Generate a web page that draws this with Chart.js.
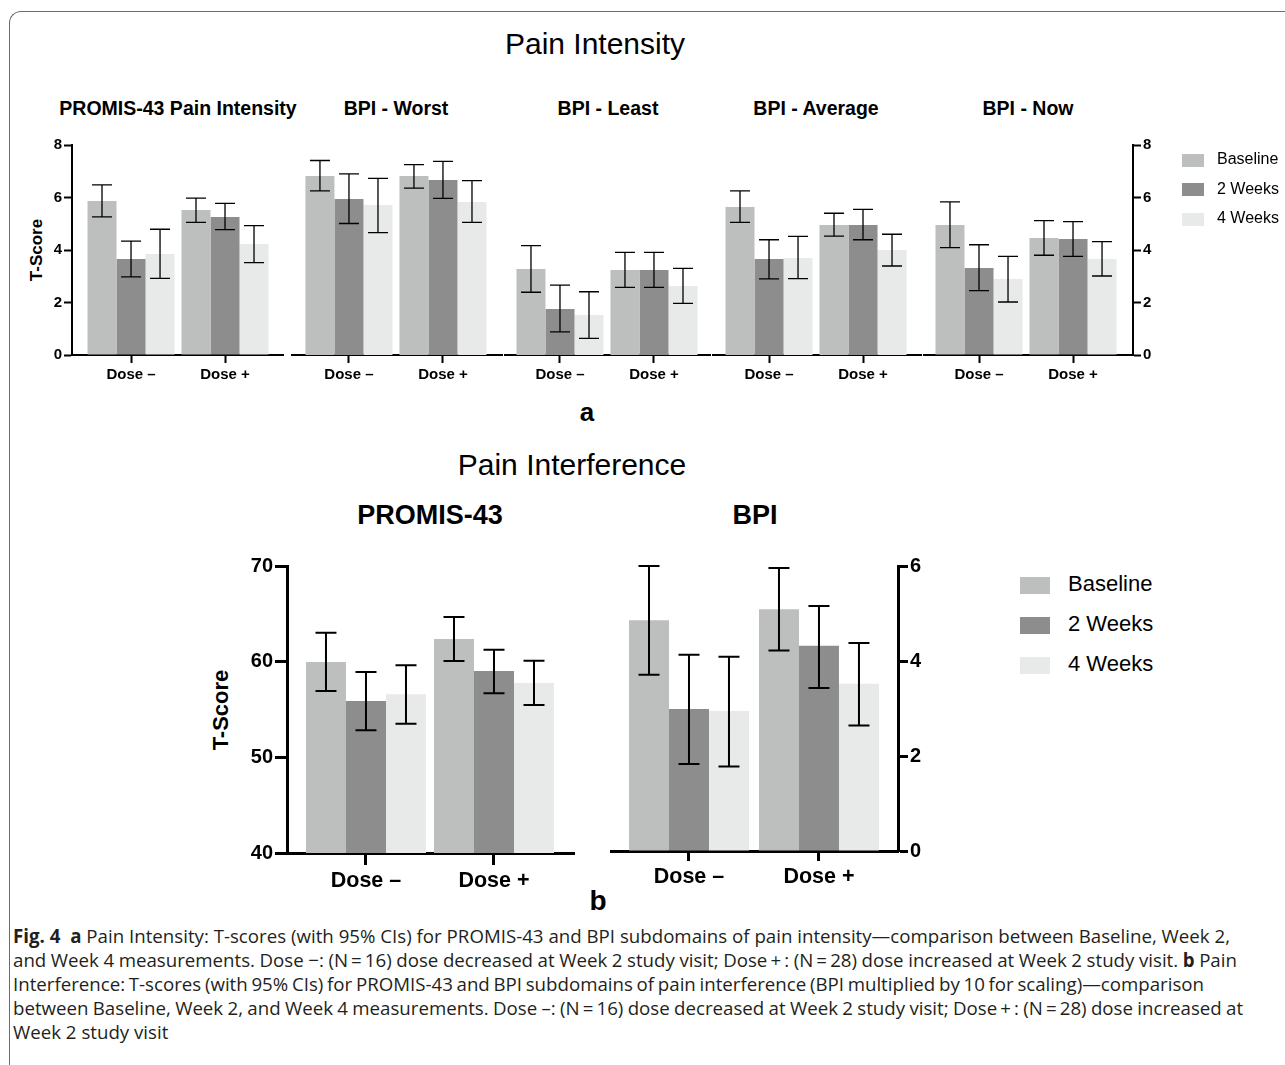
<!DOCTYPE html>
<html>
<head>
<meta charset="utf-8">
<script src="https://cdn.jsdelivr.net/npm/chart.js@4.4.1/dist/chart.umd.min.js"></script>
<style>
  body { margin: 0; background: #fff; }
  #page { position: relative; width: 1285px; height: 1065px; overflow: hidden;
          font-family: "Liberation Sans", Arial, sans-serif; color: #000; }
  .frame { position: absolute; left: 9px; top: 11px; width: 1400px; height: 1200px;
           border-left: 1.5px solid #6b6b6b; border-top: 1.5px solid #6b6b6b;
           border-top-left-radius: 12px; }
  .t { position: absolute; white-space: nowrap; transform: translate(-50%, -50%); line-height: 1; }
  .b { font-weight: bold; }
  .rot { transform: translate(-50%, -50%) rotate(-90deg); }
  canvas { position: absolute; }
  .lg { position: absolute; white-space: nowrap; line-height: 1; }
  #caption { position: absolute; left: 13px; top: 924px; font-family: "Open Sans", "Noto Sans", sans-serif;
             color: #231f20; font-size: 16px; }
  #caption div { white-space: nowrap; line-height: 24px; height: 24px; }
  #caption span { display: inline-block; }
</style>
</head>
<body>
<div id="page">
  <div class="frame"></div>
  <div class="t" style="left:595px;top:44px;font-size:30px;">Pain Intensity</div>
  <div class="t b rot" style="left:36px;top:250px;font-size:17px;">T-Score</div>
  <div class="t b" style="left:587px;top:412px;font-size:26px;">a</div>
  <div class="t" style="left:572px;top:465px;font-size:30px;">Pain Interference</div>
  <div class="t b rot" style="left:221px;top:710px;font-size:22px;">T-Score</div>
  <div class="t b" style="left:598px;top:901px;font-size:28px;">b</div>
  <div id="caption">
    <div><span><b>Fig. 4</b>&nbsp; <b>a</b> Pain Intensity: T-scores (with 95% CIs) for PROMIS-43 and BPI subdomains of pain intensity—comparison between Baseline, Week 2,</span></div>
    <div><span>and Week 4 measurements. Dose −: (N&#8201;=&#8201;16) dose decreased at Week 2 study visit; Dose&#8201;+&#8201;: (N&#8201;=&#8201;28) dose increased at Week 2 study visit. <b>b</b> Pain</span></div>
    <div><span>Interference: T-scores (with 95% CIs) for PROMIS-43 and BPI subdomains of pain interference (BPI multiplied by 10 for scaling)—comparison</span></div>
    <div><span>between Baseline, Week 2, and Week 4 measurements. Dose –: (N&#8201;=&#8201;16) dose decreased at Week 2 study visit; Dose&#8201;+&#8201;: (N&#8201;=&#8201;28) dose increased at</span></div>
    <div><span>Week 2 study visit</span></div>
  </div>
</div>
<script>
// categories and series
const doseLabels = ['Dose –', 'Dose +'];
const seriesNames = ['Baseline', '2 Weeks', '4 Weeks'];

// rows: Baseline, 2 Weeks, 4 Weeks; columns: Dose –, Dose +
// a) Pain Intensity, 0-8
const intensityTicks = [0, 2, 4, 6, 8];

const promisIntMean = [[5.87, 5.52], [3.66, 5.26], [3.85, 4.23]];
const promisIntLow  = [[5.26, 5.05], [2.98, 4.78], [2.92, 3.52]];
const promisIntHigh = [[6.48, 5.98], [4.34, 5.78], [4.79, 4.93]];

const worstMean = [[6.82, 6.82], [5.94, 6.67], [5.71, 5.83]];
const worstLow  = [[6.25, 6.36], [5.01, 5.97], [4.66, 5.05]];
const worstHigh = [[7.41, 7.25], [6.90, 7.38], [6.73, 6.64]];

const leastMean = [[3.28, 3.24], [1.75, 3.24], [1.52, 2.63]];
const leastLow  = [[2.39, 2.58], [0.88, 2.58], [0.63, 1.97]];
const leastHigh = [[4.17, 3.91], [2.66, 3.91], [2.41, 3.30]];

const averageMean = [[5.64, 4.95], [3.66, 4.95], [3.70, 4.00]];
const averageLow  = [[5.05, 4.53], [2.90, 4.39], [2.91, 3.39]];
const averageHigh = [[6.25, 5.40], [4.39, 5.55], [4.52, 4.60]];

const nowMean = [[4.95, 4.46], [3.31, 4.42], [2.90, 3.66]];
const nowLow  = [[4.09, 3.80], [2.45, 3.76], [2.02, 3.01]];
const nowHigh = [[5.83, 5.12], [4.20, 5.08], [3.76, 4.32]];

// b) Pain Interference
const promisTicks = [40, 50, 60, 70];
const promisMean = [[59.97, 62.37], [55.90, 59.03], [56.60, 57.78]];
const promisLow  = [[56.94, 60.07], [52.84, 56.70], [53.50, 55.48]];
const promisHigh = [[63.03, 64.67], [58.93, 61.25], [59.62, 60.10]];

const bpiTicks = [0, 2, 4, 6];
const bpiMean = [[4.86, 5.09], [2.99, 4.32], [2.95, 3.52]];
const bpiLow  = [[3.71, 4.22], [1.83, 3.43], [1.78, 2.64]];
const bpiHigh = [[6.00, 5.96], [4.13, 5.16], [4.09, 4.38]];

// styles
const seriesColors = ['#bdbfbe', '#8d8d8d', '#e8e9e9'];
const FONT = '"Liberation Sans", Arial, sans-serif';

const errorBars = {
  id: 'errorBars',
  afterDatasetsDraw(chart, args, opts) {
    const ctx = chart.ctx;
    const y = chart.scales.y;
    ctx.save();
    ctx.strokeStyle = '#000';
    ctx.lineWidth = opts.width;
    chart.data.datasets.forEach((ds, i) => {
      chart.getDatasetMeta(i).data.forEach((bar, j) => {
        const yHi = y.getPixelForValue(ds.high[j]);
        const yLo = y.getPixelForValue(ds.low[j]);
        const half = opts.cap / 2;
        ctx.beginPath();
        ctx.moveTo(bar.x, yHi); ctx.lineTo(bar.x, yLo);
        ctx.moveTo(bar.x - half, yHi); ctx.lineTo(bar.x + half, yHi);
        ctx.moveTo(bar.x - half, yLo); ctx.lineTo(bar.x + half, yLo);
        ctx.stroke();
      });
    });
    ctx.restore();
  }
};

function makePanel(p) {
  const page = document.getElementById('page');
  const canvas = document.createElement('canvas');
  const axisW = p.axis ? p.axisW : 0;
  const left = p.left - (p.axis === 'left' ? axisW : 0) - 10;
  const width = (p.right - p.left) + axisW + 20;
  const top = p.top - 20;
  const height = (p.bottom - p.top) + p.xAxisH + 20;
  canvas.width = width; canvas.height = height;
  canvas.style.left = left + 'px'; canvas.style.top = top + 'px';
  canvas.style.width = width + 'px'; canvas.style.height = height + 'px';
  page.appendChild(canvas);

  const datasets = p.mean.map((row, i) => ({
    label: seriesNames[i],
    data: row.map((v, j) => ({ x: j, y: v })),
    low: p.low[i],
    high: p.high[i],
    backgroundColor: seriesColors[i],
    borderWidth: 0,
    categoryPercentage: p.catPct,
    barPercentage: 1.0
  }));

  new Chart(canvas, {
    type: 'bar',
    data: { datasets },
    plugins: [errorBars],
    options: {
      responsive: false,
      animation: false,
      layout: { padding: { left: 10, right: 10, top: 20, bottom: 0 } },
      plugins: {
        legend: { display: false },
        tooltip: { enabled: false },
        errorBars: { width: p.errW, cap: p.cap }
      },
      scales: {
        x: {
          type: 'linear',
          offset: false,
          min: p.xMin, max: p.xMax,
          afterBuildTicks: s => { s.ticks = doseLabels.map((d, k) => ({ value: k })); },
          afterFit: s => { s.height = p.xAxisH; },
          ticks: {
            callback: v => doseLabels[v],
            color: '#000',
            padding: 3,
            maxRotation: 0,
            autoSkip: false,
            font: { family: FONT, weight: 'bold', size: p.xFont }
          },
          grid: { offset: false, drawOnChartArea: false, drawTicks: true, tickLength: p.tickLen,
                  tickColor: '#000', tickWidth: p.lineW },
          border: { display: true, color: '#000', width: p.lineW }
        },
        y: {
          display: !!p.axis,
          position: p.axis || 'left',
          min: p.ticks[0], max: p.ticks[p.ticks.length - 1],
          afterBuildTicks: s => { s.ticks = p.ticks.map(v => ({ value: v })); },
          afterFit: s => { s.width = axisW; },
          ticks: {
            color: '#000',
            padding: 2,
            font: { family: FONT, weight: 'bold', size: p.yFont }
          },
          grid: { drawOnChartArea: false, drawTicks: true, tickLength: p.tickLen,
                  tickColor: '#000', tickWidth: p.lineW },
          border: { display: true, color: '#000', width: p.lineW }
        }
      }
    }
  });
}

function addText(txt, x, y, size, bold) {
  const d = document.createElement('div');
  d.className = 't' + (bold ? ' b' : '');
  d.style.left = x + 'px'; d.style.top = y + 'px'; d.style.fontSize = size + 'px';
  d.textContent = txt;
  document.getElementById('page').appendChild(d);
}

function addLegend(x, y0, gap, sw, sh, textX, size) {
  seriesNames.forEach((name, i) => {
    const cy = y0 + i * gap;
    const s = document.createElement('div');
    s.style.cssText = `position:absolute;left:${x}px;top:${cy - sh / 2}px;width:${sw}px;height:${sh}px;background:${seriesColors[i]}`;
    const t = document.createElement('div');
    t.className = 'lg';
    t.style.cssText += `left:${textX}px;top:${cy - size * 0.55}px;font-size:${size}px`;
    t.textContent = name;
    document.getElementById('page').append(s, t);
  });
}

// a) top row
const intensityPanels = [
  { title: 'PROMIS-43 Pain Intensity', mean: promisIntMean, low: promisIntLow, high: promisIntHigh },
  { title: 'BPI - Worst', mean: worstMean, low: worstLow, high: worstHigh },
  { title: 'BPI - Least', mean: leastMean, low: leastLow, high: leastHigh },
  { title: 'BPI - Average', mean: averageMean, low: averageLow, high: averageHigh },
  { title: 'BPI - Now', mean: nowMean, low: nowLow, high: nowHigh }
];
const topBoxes = [
  { left: 72,  right: 283,  xMin: -0.628, xMax: 1.617, axis: 'left',  titleX: 178 },
  { left: 292, right: 502,  xMin: -0.606, xMax: 1.628, axis: null,    titleX: 396 },
  { left: 505, right: 710,  xMin: -0.585, xMax: 1.596, axis: null,    titleX: 608 },
  { left: 713, right: 921,  xMin: -0.596, xMax: 1.617, axis: null,    titleX: 816 },
  { left: 924, right: 1133, xMin: -0.585, xMax: 1.638, axis: 'right', titleX: 1028 }
];
intensityPanels.forEach((panel, k) => {
  const b = topBoxes[k];
  addText(panel.title, b.titleX, 109, 19.5, true);
  makePanel(Object.assign({}, panel, b, {
    top: 145, bottom: 355, ticks: intensityTicks,
    axisW: 30, xAxisH: 35, tickLen: 8, lineW: 2,
    catPct: 0.926, errW: 1.3, cap: 20, xFont: 15, yFont: 15
  }));
});
addLegend(1182, 160, 29.5, 22, 13, 1217, 16);

// b) bottom row
addText('PROMIS-43', 430, 515, 27, true);
addText('BPI', 755, 515, 27, true);
makePanel({
  mean: promisMean, low: promisLow, high: promisHigh, ticks: promisTicks,
  left: 287, right: 574, top: 566, bottom: 853, xMin: -0.617, xMax: 1.625, axis: 'left',
  axisW: 60, xAxisH: 50, tickLen: 12, lineW: 3,
  catPct: 0.9375, errW: 2, cap: 21, xFont: 21.5, yFont: 20
});
makePanel({
  mean: bpiMean, low: bpiLow, high: bpiHigh, ticks: bpiTicks,
  left: 611, right: 898, top: 566, bottom: 851, xMin: -0.6, xMax: 1.608, axis: 'right',
  axisW: 60, xAxisH: 50, tickLen: 10, lineW: 3,
  catPct: 0.923, errW: 2, cap: 21, xFont: 21.5, yFont: 20
});
addLegend(1020, 585, 40, 30, 17, 1068, 22);

// caption: size from line 1, then stretch word spacing so each line ends where the reference does
(function fitCaption() {
  const cap = document.getElementById('caption');
  const spans = cap.querySelectorAll('span');
  const ends = [1230, 1237, 1204, 1243];
  cap.style.fontSize = (16 * (ends[0] - 13) / spans[0].getBoundingClientRect().width).toFixed(2) + 'px';
  ends.forEach((end, i) => {
    const s = spans[i];
    const gaps = (s.textContent.match(/ /g) || []).length;
    const diff = (end - 13) - s.getBoundingClientRect().width;
    if (gaps) s.style.wordSpacing = (diff / gaps).toFixed(2) + 'px';
  });
})();
</script>
</body>
</html>
